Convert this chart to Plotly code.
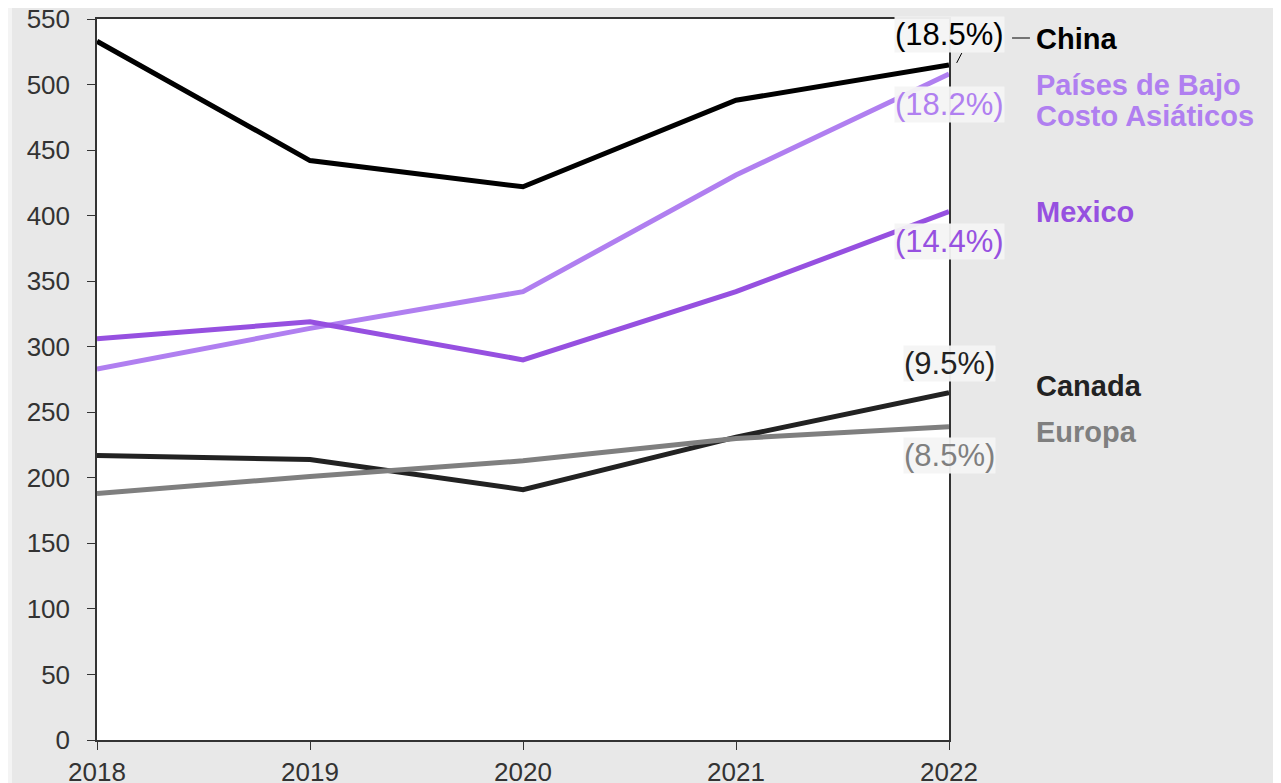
import plotly.graph_objects as go

years = [2018, 2019, 2020, 2021, 2022]
china = [533, 442, 422, 488, 515]
paises = [283, 314, 342, 431, 508]
mexico = [306, 319, 290, 342, 403]
canada = [217, 214, 191, 231, 265]
europa = [188, 201, 213, 230, 239]

names = ["China", "Países de Bajo<br>Costo Asiáticos", "Mexico", "Canada", "Europa"]
growth = ["(18.5%)", "(18.2%)", "(14.4%)", "(9.5%)", "(8.5%)"]
colors = ["#000000", "#b07ff0", "#9650e0", "#222222", "#7f7f7f"]
series = [china, paises, mexico, canada, europa]

fig = go.Figure()
for name, vals, col in zip(names, series, colors):
    fig.add_trace(go.Scatter(x=years, y=vals, mode="lines", name=name.replace("<br>", " "),
                             line=dict(color=col, width=5), showlegend=False))

# growth labels at the last point (y offsets in pixels)
label_shift = [30, -30, -30, 29, -29]
for g, vals, col, dy in zip(growth, series, colors, label_shift):
    fig.add_annotation(x=2022, y=vals[-1], text=g, showarrow=False, yshift=dy,
                       font=dict(size=31, color=col), bgcolor="rgba(244,244,244,0.95)",
                       xanchor="center", yanchor="middle", borderpad=0)

# series names to the right of the plot, one annotation per line
name_y = [[535], [500, 476], [403], [270], [235]]
for n, col, ys in zip(names, colors, name_y):
    for line, yy in zip(n.split("<br>"), ys):
        fig.add_annotation(x=1.100, xref="paper", y=yy, text="<b>" + line + "</b>", showarrow=False,
                           xanchor="left", yanchor="middle", align="left",
                           font=dict(size=29, color=col))

# leader lines for China label
fig.add_shape(type="line", xref="paper", yref="y", x0=1.074, x1=1.095, y0=535.5, y1=535.5,
              line=dict(color="#000000", width=1))
fig.add_shape(type="line", xref="paper", yref="y", x0=1.009, x1=1.015, y0=516.5, y1=524,
              line=dict(color="#000000", width=1))

# light strip at far left of page
fig.add_shape(type="rect", xref="paper", yref="paper", x0=-0.11, x1=-0.0998, y0=-0.1, y1=1.1,
              fillcolor="#f4f4f4", line=dict(width=0), layer="below")

fig.update_layout(
    width=1273, height=775,
    margin=dict(l=89, r=332, t=11, b=43),
    paper_bgcolor="#e8e8e8", plot_bgcolor="#ffffff",
    font=dict(family="Liberation Sans, Arial, sans-serif", size=26, color="#333333"),
)
fig.update_xaxes(range=[2018, 2022], tickvals=years, showgrid=False, zeroline=False,
                 showline=True, linecolor="#333333", linewidth=1.5, mirror=True,
                 ticks="outside", ticklen=8, tickcolor="#333333", automargin=False,
                 ticklabeloverflow="allow")
fig.update_yaxes(range=[0, 550], dtick=50, showgrid=False, zeroline=False,
                 showline=True, linecolor="#333333", linewidth=1.5, mirror=True,
                 ticks="outside", ticklen=8, tickcolor="#333333", automargin=False,
                 ticklabelstandoff=12, ticklabeloverflow="allow")

fig.write_html("out.html")
